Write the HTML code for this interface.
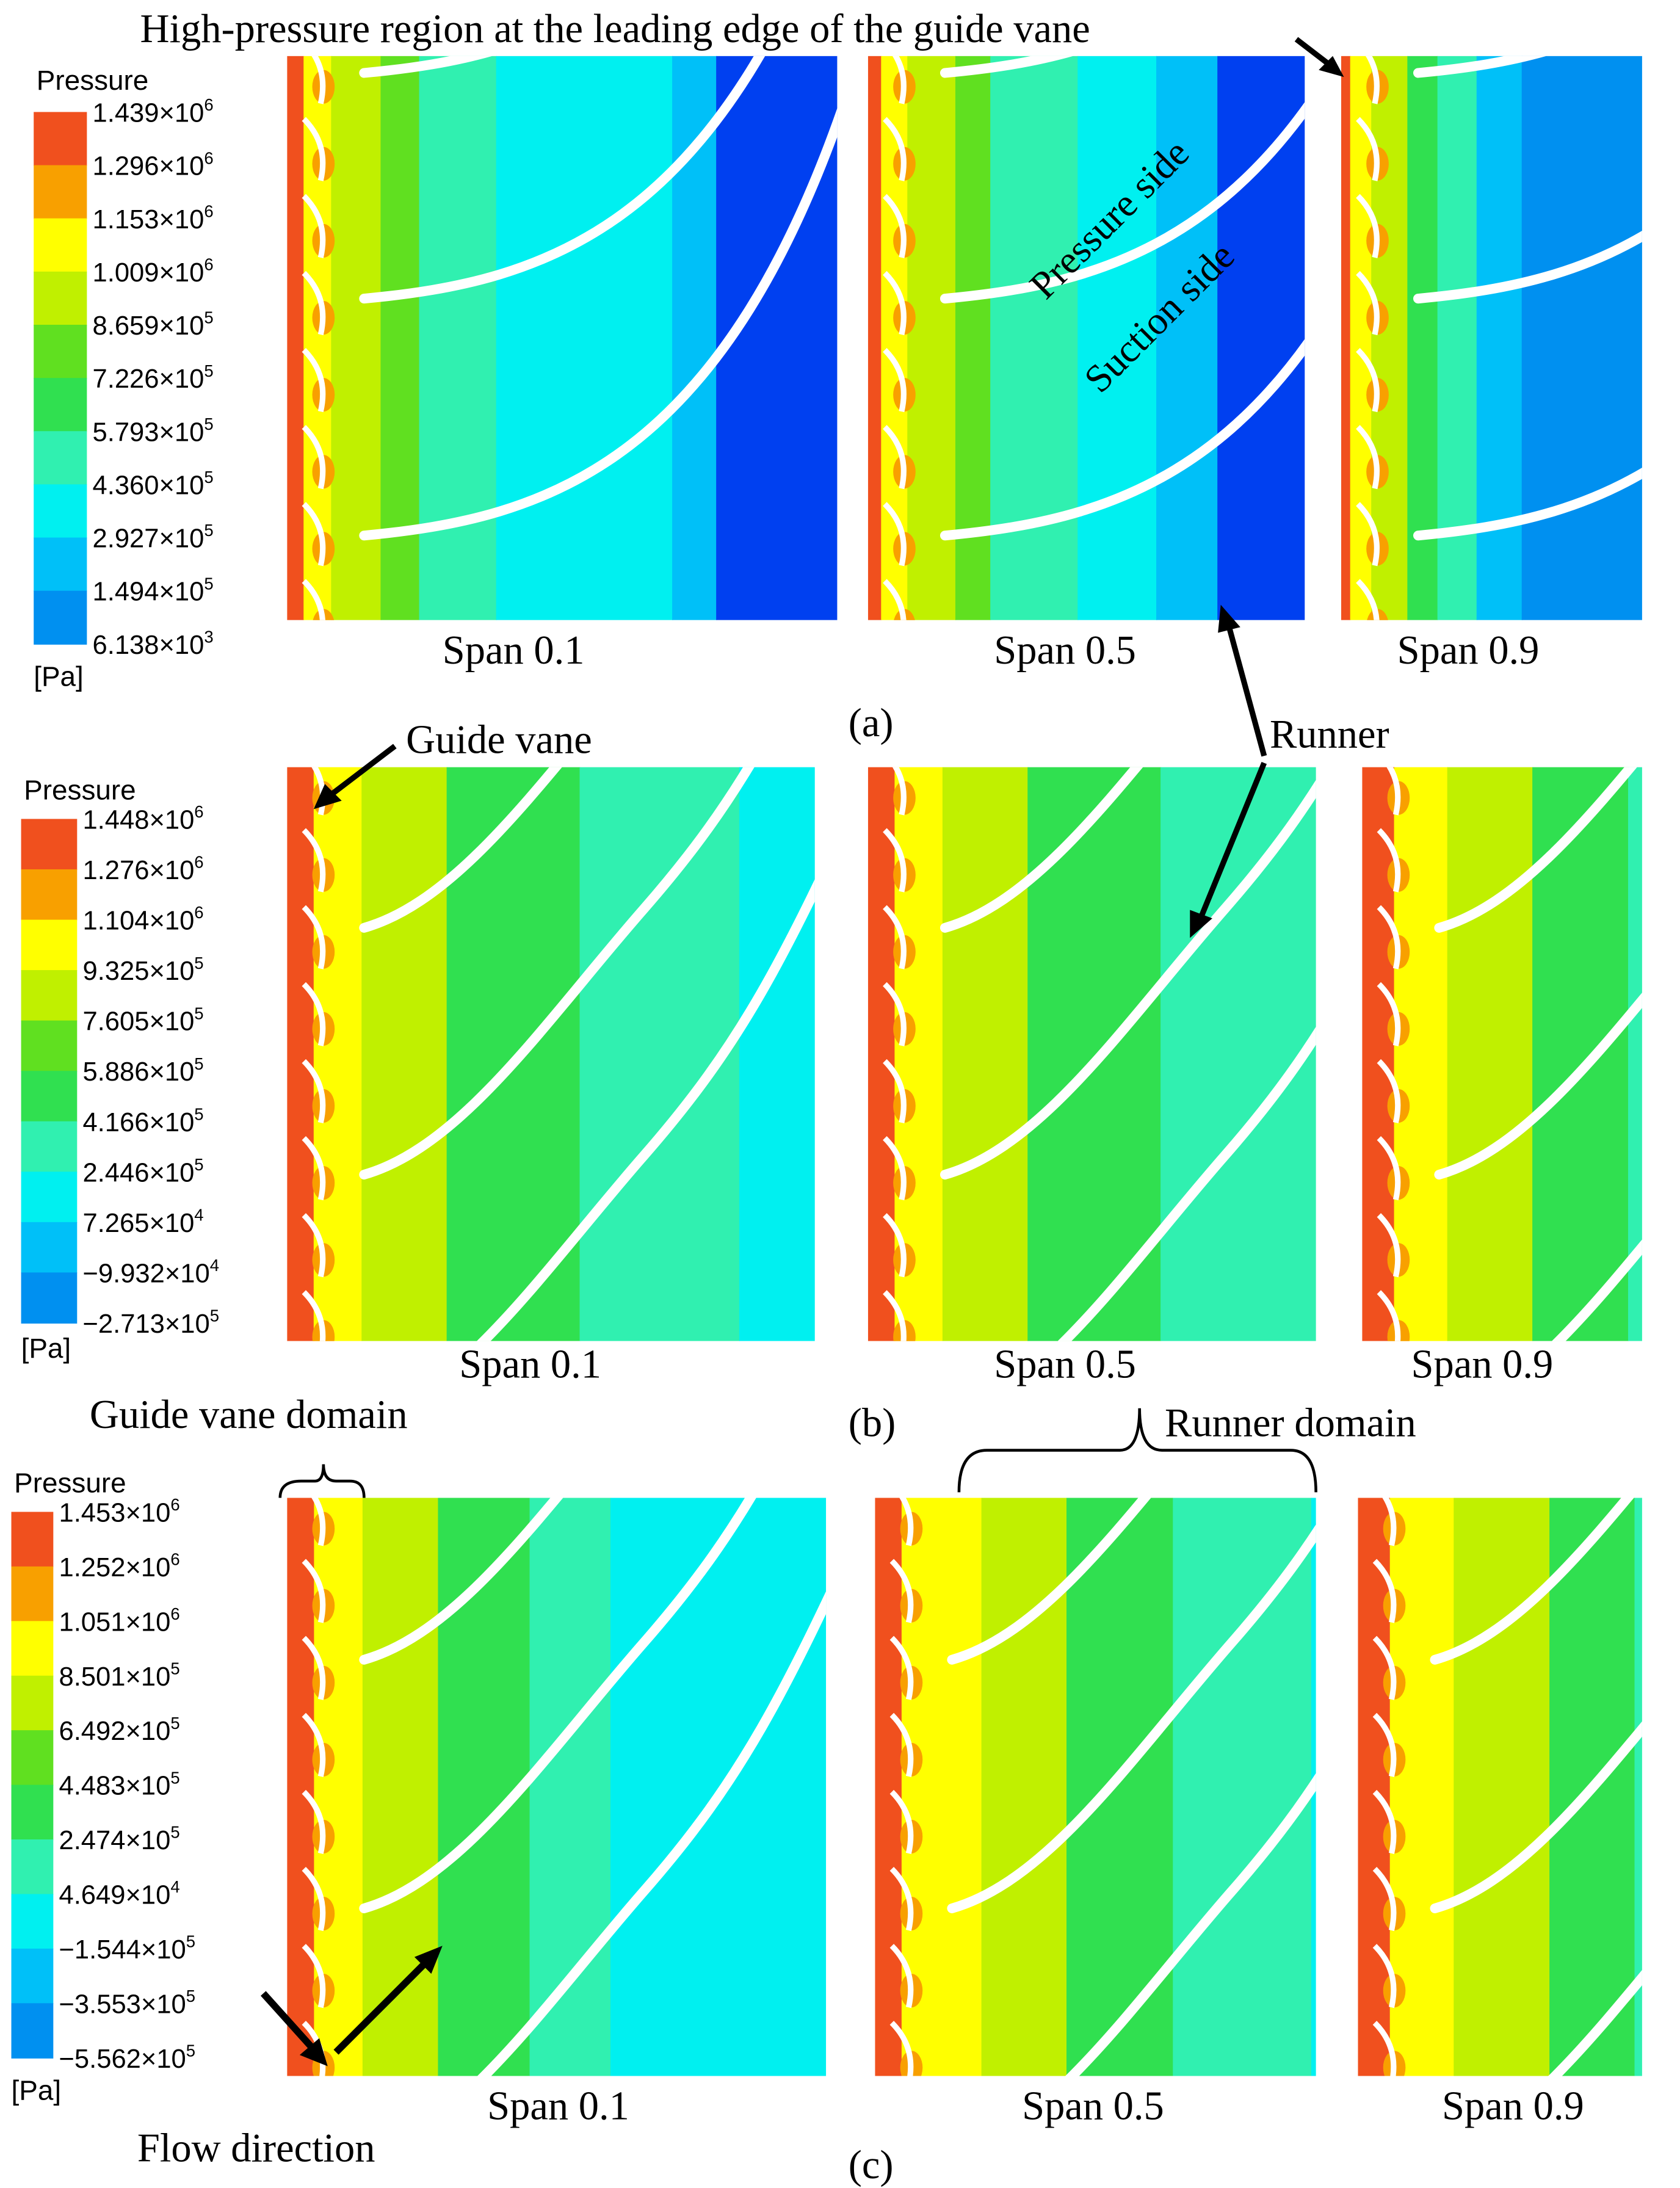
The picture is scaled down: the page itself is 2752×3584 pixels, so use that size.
<!DOCTYPE html>
<html><head><meta charset="utf-8"><style>
html,body{margin:0;padding:0;background:#fff}
svg{display:block}
</style></head><body>
<svg id="fig" xmlns="http://www.w3.org/2000/svg" width="2752" height="3584" viewBox="0 0 1200 1563">
<rect width="1200" height="1563" fill="#fff"/>
<g id="panels"></g>
<g id="bars"></g>
<g id="notes" font-family="Liberation Serif, serif" fill="#000">
 <text x="100" y="30" font-size="29">High-pressure region at the leading edge of the guide vane</text>
 <line x1="926" y1="28" x2="952" y2="48" stroke="#000" stroke-width="4"/><polygon points="960,55 942,50 952,40" fill="#000"/>
 <text x="316" y="474" font-size="29">Span 0.1</text>
 <text x="710" y="474" font-size="29">Span 0.5</text>
 <text x="998" y="474" font-size="29">Span 0.9</text>
 <text x="606" y="526" font-size="29">(a)</text>
 <text x="907" y="534" font-size="29">Runner</text>
 <line x1="903" y1="540" x2="878" y2="448" stroke="#000" stroke-width="4"/><polygon points="872,432 870,452 886,448" fill="#000"/>
 <line x1="903" y1="545" x2="858" y2="655" stroke="#000" stroke-width="4"/><polygon points="850,670 850,650 866,656" fill="#000"/>
 <text x="290" y="538" font-size="29">Guide vane</text>
 <line x1="282" y1="533" x2="236" y2="568" stroke="#000" stroke-width="4"/><polygon points="224,578 232,560 244,572" fill="#000"/>
 <text transform="translate(747,215) rotate(-45)" font-size="28">Pressure side</text>
 <text transform="translate(786,282) rotate(-45)" font-size="28">Suction side</text>
 <text x="328" y="984" font-size="29">Span 0.1</text>
 <text x="710" y="984" font-size="29">Span 0.5</text>
 <text x="1008" y="984" font-size="29">Span 0.9</text>
 <text x="606" y="1026" font-size="29">(b)</text>
 <text x="64" y="1020" font-size="29">Guide vane domain</text>
 <path d="M200,1070 Q200,1058 215,1058 L225,1058 Q231,1058 231,1046 Q231,1058 240,1058 L250,1058 Q260,1058 260,1070" fill="none" stroke="#000" stroke-width="2"/>
 <text x="832" y="1026" font-size="29">Runner domain</text>
 <path d="M685,1066 Q685,1036 705,1036 L800,1036 Q814,1036 814,1006 Q814,1036 830,1036 L922,1036 Q940,1036 940,1066" fill="none" stroke="#000" stroke-width="2"/>
 <text x="348" y="1514" font-size="29">Span 0.1</text>
 <text x="730" y="1514" font-size="29">Span 0.5</text>
 <text x="1030" y="1514" font-size="29">Span 0.9</text>
 <text x="606" y="1556" font-size="29">(c)</text>
 <text x="98" y="1544" font-size="29">Flow direction</text>
 <line x1="188" y1="1424" x2="224" y2="1464" stroke="#000" stroke-width="5"/><polygon points="234,1476 214,1468 228,1456" fill="#000"/>
 <line x1="240" y1="1466" x2="304" y2="1402" stroke="#000" stroke-width="5"/><polygon points="316,1390 296,1398 308,1410" fill="#000"/>
</g>
</svg>
<script>
const NS='http://www.w3.org/2000/svg';
const palette=['#f0501e','#f8a000','#ffff00','#c0f000','#60e020','#30e050','#30f0b0','#00f0f0','#00c0f8','#0090f0','#0040f0'];
const ticksA=[['1.439','6'],['1.296','6'],['1.153','6'],['1.009','6'],['8.659','5'],['7.226','5'],['5.793','5'],['4.360','5'],['2.927','5'],['1.494','5'],['6.138','3']];
const ticksB=[['1.448','6'],['1.276','6'],['1.104','6'],['9.325','5'],['7.605','5'],['5.886','5'],['4.166','5'],['2.446','5'],['7.265','4'],['\u22129.932','4'],['\u22122.713','5']];
const ticksC=[['1.453','6'],['1.252','6'],['1.051','6'],['8.501','5'],['6.492','5'],['4.483','5'],['2.474','5'],['4.649','4'],['\u22121.544','5'],['\u22123.553','5'],['\u22125.562','5']];
const bandsA1=[[0,0.03],[2,0.08],[3,0.17],[4,0.24],[6,0.38],[7,0.7],[8,0.78],[10,1]];
const bandsA2=[[0,0.03],[2,0.09],[3,0.2],[4,0.28],[6,0.48],[7,0.66],[8,0.8],[10,1]];
const bandsA3=[[0,0.03],[2,0.1],[3,0.22],[5,0.32],[6,0.45],[8,0.6],[9,1]];
const bandsB=[[0,0.05],[2,0.14],[3,0.3],[5,0.55],[6,0.85],[7,1]];
const bandsB3=[[0,0.06],[2,0.16],[3,0.32],[5,0.5],[6,0.78],[7,1]];
const bandsC1=[[0,0.05],[2,0.14],[3,0.28],[5,0.45],[6,0.6],[7,1]];
const bandsC2=[[0,0.05],[2,0.2],[3,0.36],[5,0.56],[6,0.82],[7,1]];
const bandsC3=[[0,0.06],[2,0.18],[3,0.36],[5,0.52],[6,0.7],[8,1]];
const bladesA=[0.03,0.43,0.85];
const bladesB=[-0.17,0.28,0.71,1.14];

const panels=[
 {n:'a1',x:205,y:40,w:393,h:403,b:bandsA1,t:'a'},
 {n:'a2',x:620,y:40,w:312,h:403,b:bandsA2,t:'a'},
 {n:'a3',x:958,y:40,w:215,h:403,b:bandsA3,t:'a'},
 {n:'b1',x:205,y:548,w:377,h:410,b:bandsB,t:'b'},
 {n:'b2',x:620,y:548,w:320,h:410,b:bandsB,t:'b'},
 {n:'b3',x:973,y:548,w:200,h:410,b:bandsB3,t:'b'},
 {n:'c1',x:205,y:1070,w:385,h:413,b:bandsC1,t:'b'},
 {n:'c2',x:625,y:1070,w:315,h:413,b:bandsC2,t:'b'},
 {n:'c3',x:970,y:1070,w:203,h:413,b:bandsC3,t:'b'}
];
const gP=document.getElementById('panels');
panels.forEach(p=>{
 const g=document.createElementNS(NS,'g');
 
 
 const cp=document.createElementNS(NS,'clipPath');cp.id='cp'+p.n;
 const cr=document.createElementNS(NS,'rect');
 cr.setAttribute('x',p.x);cr.setAttribute('y',p.y);cr.setAttribute('width',p.w);cr.setAttribute('height',p.h);
 cp.appendChild(cr);g.appendChild(cp);
 const inner=document.createElementNS(NS,'g');inner.setAttribute('clip-path','url(#cp'+p.n+')');
 let prev=0;
 const sx=p.t==='a'?p.w:Math.max(p.w,380);
 p.b.forEach(([ci,f],k)=>{
  const r=document.createElementNS(NS,'rect');
  
  
  const x0=p.x+prev*sx, x1=k===p.b.length-1?p.x+p.w:p.x+f*sx;
  r.setAttribute('x',x0);r.setAttribute('y',p.y);r.setAttribute('width',Math.max(0,x1-x0)+0.5);r.setAttribute('height',p.h);
  r.setAttribute('fill',palette[ci]);inner.appendChild(r);prev=f;
 });
 for(let yy=p.y-10;yy<p.y+p.h;yy+=55){
  const e=document.createElementNS(NS,'ellipse');
  e.setAttribute('cx',p.x+26);e.setAttribute('cy',yy+32);e.setAttribute('rx',8);e.setAttribute('ry',12);
  e.setAttribute('fill',palette[1]);inner.appendChild(e);
  const v=document.createElementNS(NS,'path');
  
  
  v.setAttribute('d',`M${p.x+12},${yy} Q${p.x+30},${yy+18} ${p.x+24},${yy+44}`);
  v.setAttribute('fill','none');v.setAttribute('stroke','#fff');v.setAttribute('stroke-width','4');inner.appendChild(v);
 }
 const list=p.t==='a'?bladesA:bladesB;
 list.forEach(f=>{
  const y0=p.y+f*p.h, x0=p.x+55;
  const b=document.createElementNS(NS,'path');
  
  
  if(p.t==='a') b.setAttribute('d',`M${x0},${y0} C${x0+130},${y0-12} ${x0+260},${y0-50} ${x0+350},${y0-330}`);
  else b.setAttribute('d',`M${x0},${y0} C${x0+70},${y0-20} ${x0+130},${y0-110} ${x0+200},${y0-190} S${x0+300},${y0-330} ${x0+360},${y0-460}`);
  b.setAttribute('fill','none');b.setAttribute('stroke','#fff');b.setAttribute('stroke-width','7');b.setAttribute('stroke-linecap','round');
  inner.appendChild(b);
 });
 g.appendChild(inner);gP.appendChild(g);
});
const bars=[{x:24,y:80,w:38,h:380,t:ticksA,ty:58,py:490,n:'a'},{x:15,y:585,w:40,h:360,t:ticksB,ty:565,py:970,n:'b'},{x:8,y:1080,w:30,h:390,t:ticksC,ty:1060,py:1500,n:'c'}];
const gB=document.getElementById('bars');
bars.forEach(b=>{
 const g=document.createElementNS(NS,'g');
 
 
 g.setAttribute('font-family','Liberation Sans, sans-serif');
 const seg=b.h/(b.t.length-1);
 for(let i=0;i<b.t.length-1;i++){
  const r=document.createElementNS(NS,'rect');
  r.setAttribute('x',b.x);r.setAttribute('y',b.y+i*seg);r.setAttribute('width',b.w);r.setAttribute('height',seg+0.5);
  r.setAttribute('fill',palette[i]);g.appendChild(r);
 }
 b.t.forEach((t,i)=>{
  const tx=document.createElementNS(NS,'text');
  
  
  tx.setAttribute('x',b.x+b.w+4);tx.setAttribute('y',b.y+i*seg+7);tx.setAttribute('font-size','19');
  tx.innerHTML=t[0]+'\u00d710<tspan font-size="12" dy="-8">'+t[1]+'</tspan>';
  g.appendChild(tx);
 });
 const ti=document.createElementNS(NS,'text');
 
 
 ti.setAttribute('x',b.x+2);ti.setAttribute('y',b.ty+6);ti.setAttribute('font-size','20');ti.textContent='Pressure';g.appendChild(ti);
 const pa=document.createElementNS(NS,'text');
 
 
 pa.setAttribute('x',b.x);pa.setAttribute('y',b.py);pa.setAttribute('font-size','20');pa.textContent='[Pa]';g.appendChild(pa);
 gB.appendChild(g);
});
</script>
</body></html>
